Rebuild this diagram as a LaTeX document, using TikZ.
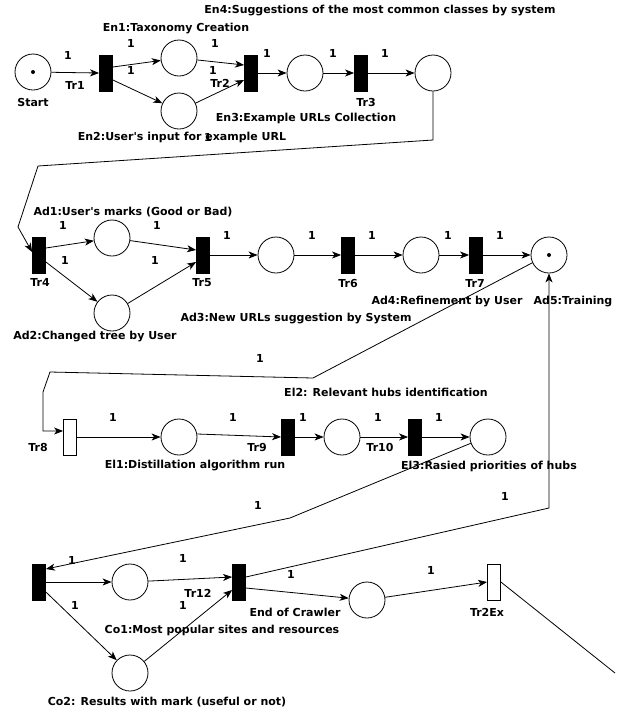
\documentclass[tikz,border=0pt]{standalone}
\usepackage{fontspec}
\setmainfont{DejaVu Sans}[Ligatures=TeXOff]
\usetikzlibrary{arrows.meta}
\begin{document}
\begin{tikzpicture}[x=1pt,y=-1pt,
  place/.style={circle,draw,line width=0.8pt,minimum size=36pt,inner sep=0pt},
  trans/.style={rectangle,draw,line width=0.8pt,fill=black,minimum width=13pt,minimum height=36pt,inner sep=0pt},
  otrans/.style={trans,fill=white},
  arc/.style={draw,line width=0.8pt,-{Stealth[length=9pt,width=7pt,inset=2.5pt]}},
  plain/.style={draw,line width=0.8pt},
  lbl/.style={font=\bfseries\fontsize{11}{13}\selectfont,inner sep=0pt},
  token/.style={circle,fill=black,inner sep=0pt,minimum size=4pt}
]
\useasboundingbox (0,0) rectangle (623,713);

% ---------- places ----------
\node[place] (Start) at (33,72) {};
\node[token] (StartTok) at (Start.center) {};
\node[place] (En1) at (179,58) {};
\node[place] (En2) at (179,111) {};
\node[place] (En3) at (305,73) {};
\node[place] (En4) at (433,73) {};
\node[place] (Ad1) at (112,238) {};
\node[place] (Ad2) at (112,313) {};
\node[place] (Ad3) at (276,255) {};
\node[place] (Ad4) at (421,255) {};
\node[place] (Ad5) at (549,255) {};
\node[token] (Ad5Tok) at (Ad5.center) {};
\node[place] (El1) at (179,437) {};
\node[place] (El2) at (342,437) {};
\node[place] (El3) at (488,437) {};
\node[place] (Co1) at (130,582) {};
\node[place] (Co2) at (130,673) {};
\node[place] (End) at (367,600) {};

% ---------- transitions ----------
\node[trans] (Tr1) at (106,73) {};
\node[trans] (Tr2) at (251,73) {};
\node[trans] (Tr3) at (361,73) {};
\node[trans] (Tr4) at (39,255) {};
\node[trans] (Tr5) at (203,255) {};
\node[trans] (Tr6) at (348,255) {};
\node[trans] (Tr7) at (476,255) {};
\node[otrans] (Tr8) at (70,437) {};
\node[trans] (Tr9) at (288,437) {};
\node[trans] (Tr10) at (415,437) {};
\node[trans] (Tr11) at (39,582) {};
\node[trans] (Tr12) at (239,582) {};
\node[otrans] (Tr2Ex) at (494,582) {};

% ---------- bend points ----------
\coordinate (b1) at (433,140);
\coordinate (b2) at (38,166);
\coordinate (b3) at (18,227);
\coordinate (c1) at (313,378);
\coordinate (c2) at (50,372);
\coordinate (c3) at (43,392);
\coordinate (c4) at (43,431);
\coordinate (d1) at (290,518);
\coordinate (f1) at (549,508);
\coordinate (e1) at (615,673);

% ---------- arcs: enrichment ----------
\path[arc] (Start) -- (Tr1.west);
\path[arc] ([yshift=6pt]Tr1.east) -- (En1);
\path[arc] ([yshift=-7pt]Tr1.east) -- (En2);
\path[arc] (En1) -- ([yshift=8pt]Tr2.west);
\path[arc] (En2) -- ([yshift=-7pt]Tr2.west);
\path[arc] (Tr2.east) -- (En3);
\path[arc] (En3) -- (Tr3.west);
\path[arc] (Tr3.east) -- (En4);
\path[arc] (En4.south) -- (b1) -- (b2) -- (b3) -- ([yshift=3pt]Tr4.west);

% ---------- arcs: adaptation ----------
\path[arc] ([yshift=7pt]Tr4.east) -- (Ad1);
\path[arc] ([yshift=-7pt]Tr4.east) -- (Ad2);
\path[arc] (Ad1) -- ([yshift=5pt]Tr5.west);
\path[arc] (Ad2) -- ([yshift=-7pt]Tr5.west);
\path[arc] (Tr5.east) -- (Ad3);
\path[arc] (Ad3) -- (Tr6.west);
\path[arc] (Tr6.east) -- (Ad4);
\path[arc] (Ad4) -- (Tr7.west);
\path[arc] (Tr7.east) -- (Ad5);
\path[arc] (Ad5.205) -- (c1) -- (c2) -- (c3) -- (c4) -- ([yshift=6pt]Tr8.west);

% ---------- arcs: elicitation ----------
\path[arc] (Tr8.east) -- (El1);
\path[arc] ([yshift=3pt]El1.east) -- (Tr9.west);
\path[arc] (Tr9.east) -- (El2);
\path[arc] (El2) -- (Tr10.west);
\path[arc] (Tr10.east) -- (El3);
\path[arc] (El3.200) -- (d1) -- ([yshift=13pt]Tr11.east);

% ---------- arcs: crawling ----------
\path[arc] (Tr11.east) -- (Co1);
\path[arc] ([yshift=-10pt]Tr11.east) -- (Co2);
\path[arc] (Co1) -- ([yshift=5pt]Tr12.west);
\path[arc] (Co2) -- ([yshift=-8pt]Tr12.west);
\path[arc] ([yshift=5pt]Tr12.east) -- (f1) -- (Ad5.south);
\path[arc] ([yshift=-6pt]Tr12.east) -- (End);
\path[arc] (End) -- (Tr2Ex.west);
\path[plain] (Tr2Ex.east) -- (e1);

% ---------- arc weights ----------
\foreach \p [count=\i] in {(68,55),(131,43),(131,70),(215,43),(213,70),(267,53),(333,53),(385,53),(208,137),
  (63,225),(65,260),(157,225),(155,260),(227,235),(312,235),(372,235),(448,235),(500,235),(260,358),
  (113,417),(233,417),(303,417),(378,417),(439,417),
  (258,505),(505,496),(72,560),(183,558),(75,605),(183,605),(291,574),(431,570)}
  \node[lbl] (w\i) at \p {1};

% ---------- transition and place names ----------
\node[lbl] (lStart) at (33,102) {Start};
\node[lbl] (lTr1) at (75,85) {Tr1};
\node[lbl] (lTr2) at (220,83) {Tr2};
\node[lbl] (lTr3) at (366,102) {Tr3};
\node[lbl] (lTr4) at (40,282) {Tr4};
\node[lbl] (lTr5) at (202,283) {Tr5};
\node[lbl] (lTr6) at (348,283) {Tr6};
\node[lbl] (lTr7) at (475,283) {Tr7};
\node[lbl] (lTr8) at (38,447) {Tr8};
\node[lbl] (lTr9) at (257,447) {Tr9};
\node[lbl] (lTr10) at (380,447) {Tr10};
\node[lbl] (lTr12) at (198,593) {Tr12};
\node[lbl] (lTr2Ex) at (487,612) {Tr2Ex};

\node[lbl] (lEn1) at (176,29) {En1:Taxonomy Creation};
\node[lbl] (lEn2) at (182,137) {En2:User's input for example URL};
\node[lbl] (lEn3) at (306,118) {En3:Example URLs Collection};
\node[lbl] (lEn4) at (380,11) {En4:Suggestions of the most common classes by system};
\node[lbl] (lAd1) at (133,212) {Ad1:User's marks (Good or Bad)};
\node[lbl] (lAd2) at (95,337) {Ad2:Changed tree by User};
\node[lbl] (lAd3) at (296,319) {Ad3:New URLs suggestion by System};
\node[lbl] (lAd4) at (447,302) {Ad4:Refinement by User};
\node[lbl] (lAd5) at (573,302) {Ad5:Training};
\node[lbl] (lEl1) at (195,466) {El1:Distillation algorithm run};
\node[lbl] (lEl2) at (386,392) {El2: Relevant hubs identification};
\node[lbl] (lEl3) at (489,466) {El3:Rasied priorities of hubs};
\node[lbl] (lEnd) at (295,612) {End of Crawler};
\node[lbl] (lCo1) at (222,630) {Co1:Most popular sites and resources};
\node[lbl] (lCo2) at (167,702) {Co2: Results with mark (useful or not)};
\end{tikzpicture}
\end{document}
